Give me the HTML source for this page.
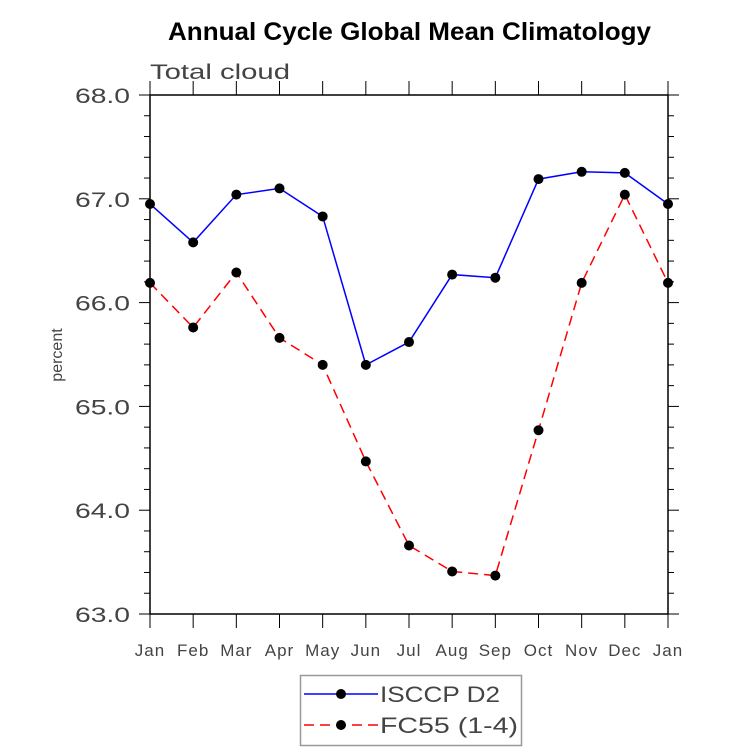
<!DOCTYPE html>
<html><head><meta charset="utf-8"><style>
body{margin:0;background:#fff;}
svg text{font-family:"Liberation Sans",sans-serif;}
</style></head><body>
<svg id="chart" width="733" height="751" xmlns="http://www.w3.org/2000/svg">
<text x="168" y="40" font-size="25" font-weight="bold" textLength="483" lengthAdjust="spacingAndGlyphs">Annual Cycle Global Mean Climatology</text>
<text x="150" y="79" font-size="21" fill="#444" textLength="140" lengthAdjust="spacingAndGlyphs">Total cloud</text>
<text transform="translate(62,355) rotate(-90)" text-anchor="middle" font-size="16" fill="#444">percent</text>
<g id="axes"></g>
<g id="series"></g>
<g>
<rect x="300.5" y="675.5" width="221" height="70" fill="#fff" stroke="#999" stroke-width="1.5"/>
<line x1="304" y1="694" x2="378" y2="694" stroke="#0000ff" stroke-width="1.5"/>
<circle cx="341" cy="694" r="5" fill="#000"/>
<text x="380" y="702" font-size="22" fill="#444" textLength="120" lengthAdjust="spacingAndGlyphs">ISCCP D2</text>
<line x1="304" y1="725" x2="378" y2="725" stroke="#ff0000" stroke-width="1.5" stroke-dasharray="10,6"/>
<circle cx="341" cy="725" r="5" fill="#000"/>
<text x="380" y="733" font-size="22" fill="#444" textLength="138" lengthAdjust="spacingAndGlyphs">FC55 (1-4)</text>
</g>
</svg>
<script>
const months=["Jan","Feb","Mar","Apr","May","Jun","Jul","Aug","Sep","Oct","Nov","Dec","Jan"];
const isccp=[66.95,66.58,67.04,67.10,66.83,65.40,65.62,66.27,66.24,67.19,67.26,67.25,66.95];
const fc55=[66.19,65.76,66.29,65.66,65.40,64.47,63.66,63.41,63.37,64.77,66.19,67.04,66.19];
const yTicks=[63,64,65,66,67,68];
const X0=150,X1=668,Y0=614,Y1=95,yMin=63,yMax=68;
const NS="http://www.w3.org/2000/svg";
function xs(i){return X0+(X1-X0)*i/(months.length-1);}
function ys(v){return Y0-(Y0-Y1)*(v-yMin)/(yMax-yMin);}
function mk(tag,attrs,parent){const e=document.createElementNS(NS,tag);for(const k in attrs)e.setAttribute(k,attrs[k]);parent.appendChild(e);return e;}
const ax=document.getElementById('axes');
const fr=mk('rect',{x:X0,y:Y1,width:X1-X0,height:Y0-Y1,fill:'none',stroke:'#000','stroke-width':1.5},ax);


for(let v=yMin;v<=yMax+1e-9;v+=0.2){
  const y=ys(v);const major=Math.abs(v-Math.round(v))<1e-6;const L=major?11:6;
  mk('line',{x1:X0-L,y1:y,x2:X0,y2:y,stroke:'#000','stroke-width':1},ax);
  mk('line',{x1:X1,y1:y,x2:X1+L,y2:y,stroke:'#000','stroke-width':1},ax);
}
yTicks.forEach(v=>{
  const t=mk('text',{x:75,y:ys(v)+8,'font-size':21,fill:'#444',textLength:55,lengthAdjust:'spacingAndGlyphs'},ax);
  t.textContent=v.toFixed(1);
  
  
});
months.forEach((m,i)=>{
  const x=xs(i);
  mk('line',{x1:x,y1:Y0,x2:x,y2:Y0+14,stroke:'#000','stroke-width':1},ax);
  mk('line',{x1:x,y1:Y1-14,x2:x,y2:Y1,stroke:'#000','stroke-width':1},ax);
  const t=mk('text',{x:x,y:656,'text-anchor':'middle','font-size':17,fill:'#444','letter-spacing':1},ax);
  t.textContent=m;
  
  
});
const sg=document.getElementById('series');
function draw(vals,color,dash,name){
  const pts=vals.map((v,i)=>xs(i)+','+ys(v)).join(' ');
  const pl=mk('polyline',{points:pts,fill:'none',stroke:color,'stroke-width':1.5},sg);
  if(dash)pl.setAttribute('stroke-dasharray',dash);
  
  
  vals.forEach((v,i)=>{
    const c=mk('circle',{cx:xs(i),cy:ys(v),r:5,fill:'#000'},sg);
    
    
  });
}
draw(isccp,'#0000ff',null,'isccp');
draw(fc55,'#ff0000','10,6','fc55');
</script>
</body></html>
